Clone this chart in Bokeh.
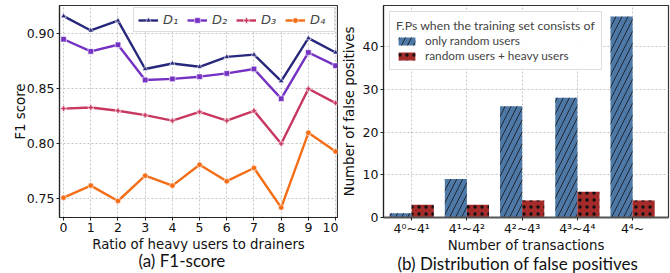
from bokeh.plotting import figure
from bokeh.layouts import row
from bokeh.models import Legend, LegendItem, FixedTicker, Title, Range1d, PrintfTickFormatter
from bokeh.embed import file_html
from bokeh.resources import INLINE

# ---------------- data ----------------
ratios = [0, 1, 2, 3, 4, 5, 6, 7, 8, 9, 10]
d1 = [0.916, 0.903, 0.912, 0.868, 0.873, 0.870, 0.879, 0.881, 0.857, 0.896, 0.883]
d2 = [0.895, 0.884, 0.890, 0.858, 0.859, 0.861, 0.864, 0.868, 0.841, 0.883, 0.871]
d3 = [0.832, 0.833, 0.830, 0.826, 0.821, 0.829, 0.821, 0.830, 0.800, 0.850, 0.837]
d4 = [0.751, 0.762, 0.748, 0.771, 0.762, 0.781, 0.766, 0.778, 0.742, 0.810, 0.793]
series_names = ["D\u2081", "D\u2082", "D\u2083", "D\u2084"]
f1_yticks = [0.75, 0.80, 0.85, 0.90]

tx_bins = ["4\u2070~4\u00b9", "4\u00b9~4\u00b2", "4\u00b2~4\u00b3", "4\u00b3~4\u2074", "4\u2074~"]
fp_random = [1, 9, 26, 28, 47]
fp_heavy = [3, 3, 4, 6, 4]
fp_yticks = [0, 10, 20, 30, 40]
legend_title = "F.Ps when the training set consists of"
legend_labels = ["only random users", "random users + heavy users"]

# ---------------- styles ----------------
line_colors = ["#27287c", "#7431c2", "#c8375f", "#f46d17"]
markers = ["triangle", "square", "plus", "circle"]
bar_colors = ["#4e79a7", "#a52a2a"]
hatches = ["/", "."]
TICK_FONT = "DejaVu Sans"
TITLE_FONT = "Lato"
GRID = "#c4c4c4"


def style_axes(p):
    for ax in (p.xaxis + p.yaxis):
        ax.major_label_text_font = TICK_FONT
        ax.major_label_text_font_size = "12.5px"
        ax.major_label_text_color = "#111111"
        ax.axis_label_text_font = TICK_FONT
        ax.axis_label_text_font_size = "13.3px"
        ax.axis_label_text_font_style = "normal"
        ax.axis_label_text_color = "#111111"
        ax.minor_tick_line_color = None
        ax.major_tick_in = 0
        ax.major_tick_out = 3
        ax.major_tick_line_color = "#222222"
        ax.axis_line_color = "#222222"
        ax.axis_line_width = 1.2
        ax.major_label_standoff = 2
        ax.axis_label_standoff = 2
    p.outline_line_color = "#333333"
    p.outline_line_width = 1.2
    p.xgrid.grid_line_color = GRID
    p.ygrid.grid_line_color = GRID
    p.xgrid.grid_line_dash = "2 2"
    p.ygrid.grid_line_dash = "2 2"
    p.background_fill_color = "white"
    p.border_fill_color = "white"


def panel_title(text, offset, standoff):
    return Title(text=text, align="left", vertical_align="top",
                 text_font=TITLE_FONT, text_font_size="17px",
                 text_font_style="normal", standoff=standoff, offset=offset,
                 text_color="#111111")


# ---------------- left: F1 score ----------------
p1 = figure(width=338, height=273, x_range=Range1d(-0.15, 10.07),
            y_range=Range1d(0.733, 0.9257), output_backend="svg",
            toolbar_location=None, min_border_left=59, min_border_right=1,
            min_border_top=5, min_border_bottom=0)
p1.add_layout(panel_title("(a) F1-score", 79, -10), "below")
p1.xaxis.axis_label = "Ratio of heavy users to drainers"
p1.yaxis.axis_label = "F1 score"
p1.xaxis.ticker = FixedTicker(ticks=ratios)
p1.yaxis.ticker = FixedTicker(ticks=f1_yticks)
p1.yaxis.formatter = PrintfTickFormatter(format="%.2f")
style_axes(p1)
p1.yaxis.axis_label_standoff = -4

items = []
for vals, name, col, mk in zip([d1, d2, d3, d4], series_names, line_colors, markers):
    ln = p1.line(ratios, vals, line_color=col, line_width=2.4)
    sc = p1.scatter(ratios, vals, marker=mk, size=5.5, fill_color=col,
                    line_color="white", line_width=0.6)
    items.append(LegendItem(label=name, renderers=[ln, sc]))

leg1 = Legend(items=items, orientation="horizontal", location="top_right",
              margin=2, padding=4, spacing=4, glyph_width=20, glyph_height=14,
              label_standoff=5, label_text_font=TICK_FONT,
              label_text_font_size="13px", label_text_font_style="italic",
              border_line_color="#bbbbbb", border_line_width=1,
              background_fill_alpha=0.95)
p1.add_layout(leg1)

# ---------------- right: false positives ----------------
xs = list(range(len(tx_bins)))
p2 = figure(width=332, height=273, x_range=Range1d(-0.51, 4.65),
            y_range=Range1d(0, 49.6), output_backend="svg",
            toolbar_location=None, min_border_left=40, min_border_right=2,
            min_border_top=5, min_border_bottom=0)
p2.add_layout(panel_title("(b) Distribution of false positives", 14, -5), "below")
p2.xaxis.axis_label = "Number of transactions"
p2.yaxis.axis_label = "Number of false positives"
p2.xaxis.ticker = FixedTicker(ticks=xs)
p2.xaxis.major_label_overrides = {i: lab for i, lab in enumerate(tx_bins)}
p2.yaxis.ticker = FixedTicker(ticks=fp_yticks)
style_axes(p2)
p2.xaxis.major_label_standoff = 0
p2.xaxis.axis_label_standoff = -1
p2.yaxis.axis_label_standoff = 3
p2.xaxis.axis_line_color = "#555555"
p2.xaxis.axis_line_width = 2

b1 = p2.vbar(x=[i - 0.2 for i in xs], top=fp_random, width=0.4,
             fill_color=bar_colors[0], line_color=None,
             hatch_pattern=hatches[0], hatch_color="#111111",
             hatch_scale=12, hatch_weight=0.8)
b2 = p2.vbar(x=[i + 0.2 for i in xs], top=fp_heavy, width=0.4,
             fill_color=bar_colors[1], line_color=None,
             hatch_pattern=hatches[1], hatch_color="#111111",
             hatch_scale=7, hatch_weight=1.2)

leg2 = Legend(items=[LegendItem(label=legend_labels[0], renderers=[b1]),
                     LegendItem(label=legend_labels[1], renderers=[b2])],
              title=legend_title, location="top_left", margin=6, padding=6,
              spacing=0, glyph_width=21, glyph_height=10, label_height=12,
              label_standoff=8, label_text_font=TITLE_FONT,
              label_text_font_size="11.8px", title_text_font=TITLE_FONT,
              title_text_font_size="12.3px", title_text_font_style="normal",
              title_standoff=-8, border_line_color="#bbbbbb",
              background_fill_alpha=0.95)
p2.add_layout(leg2)

layout = row(p1, p2)
open("out.html", "w").write(file_html(layout, INLINE))
